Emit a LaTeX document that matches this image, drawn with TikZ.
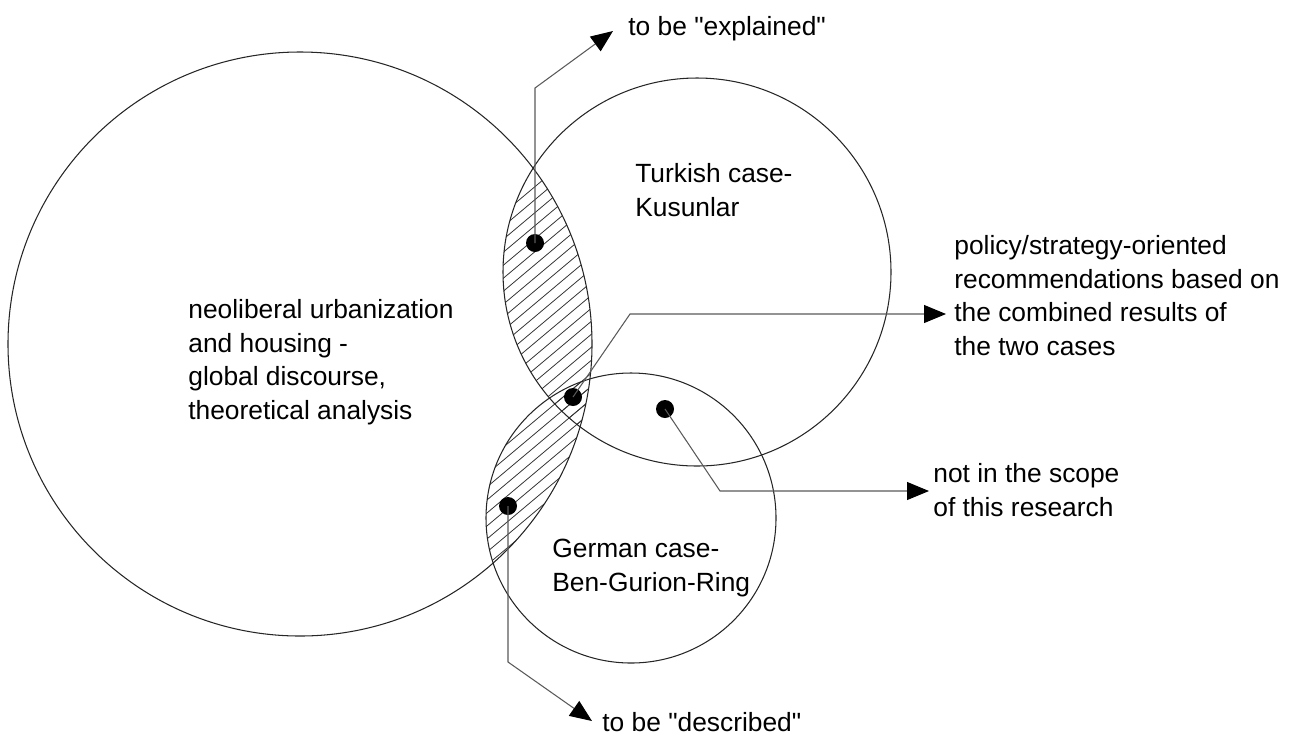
\documentclass[tikz,border=0pt]{standalone}
\usepackage{fontspec}
\setmainfont{Liberation Sans}
\usetikzlibrary{arrows.meta}

\tikzset{
  ring/.style={draw=black!85, line width=0.6pt},
  hatch/.style={draw=black!80, line width=0.45pt},
  spot/.style={circle, fill=black, inner sep=0pt, minimum size=0.36cm},
  lead/.style={draw=black!65, line width=0.6pt},
  tip/.style={lead, -{Triangle[length=4.4mm,width=3.6mm,color=black]}},
  lbl/.style={anchor=base west, align=left, inner sep=0pt,
              font=\fontsize{15}{19}\selectfont},
}

\begin{document}
\begin{tikzpicture}[x=0.02cm, y=-0.02cm]
\useasboundingbox (0,0) rectangle (1301,735);

% circle centres
\coordinate (cbig) at (300,344);
\coordinate (ctur) at (697,272);
\coordinate (cger) at (631,518);

% hatched lens: global discourse / Turkish case
\begin{scope}
  \clip (cbig) circle (292);
  \clip (ctur) circle (194);
  \foreach \c in {300,313,...,1000}
    \draw[hatch] (400,\c) -- ++(400,-336);
\end{scope}

% hatched lens: global discourse / German case
\begin{scope}
  \clip (cbig) circle (292);
  \clip (cger) circle (145);
  \foreach \c in {300,313,...,1000}
    \draw[hatch] (400,\c) -- ++(400,-336);
\end{scope}

% denser hatching where all three meet
\begin{scope}
  \clip (cbig) circle (292);
  \clip (ctur) circle (194);
  \clip (cger) circle (145);
  \foreach \c in {700,704,...,900}
    \draw[hatch, line width=0.35pt] (400,\c) -- ++(400,-336);
\end{scope}

% the three circles
\draw[ring] (cbig) circle (292);
\draw[ring] (ctur) circle (194);
\draw[ring] (cger) circle (145);

% labels in the circles (placed on the baseline of their last line)
\node[lbl] (global) at (188,419) {neoliberal urbanization\\and housing -\\global discourse,\\theoretical analysis};
\node[lbl] (turkish) at (635,216) {Turkish case-\\Kusunlar};
\node[lbl] (german) at (552,591) {German case-\\Ben-Gurion-Ring};

% outside labels
\node[lbl] (explained) at (628,35) {to be \textquotedbl explained\textquotedbl};
\node[lbl] (policy) at (954,355) {policy/strategy-oriented\\recommendations based on\\the combined results of\\the two cases};
\node[lbl] (scope) at (933,516) {not in the scope\\of this research};
\node[lbl] (described) at (602,731) {to be \textquotedbl described\textquotedbl};

% dots
\node[spot] (dexp) at (535,243) {};
\node[spot] (dall) at (573,397) {};
\node[spot] (dout) at (665,409) {};
\node[spot] (ddes) at (508,506) {};

% arrow ends
\coordinate (aexp) at (613,31);
\coordinate (apol) at (946,314);
\coordinate (asco) at (929,491);
\coordinate (ades) at (592,721);

% connectors
\draw[tip] (dexp.center) -- (535,88) -- (aexp);
\draw[tip] (dall.center) -- (630,314) -- (apol);
\draw[tip] (dout.center) -- (720,491) -- (asco);
\draw[tip] (ddes.center) -- (508,662) -- (ades);
\end{tikzpicture}
\end{document}
